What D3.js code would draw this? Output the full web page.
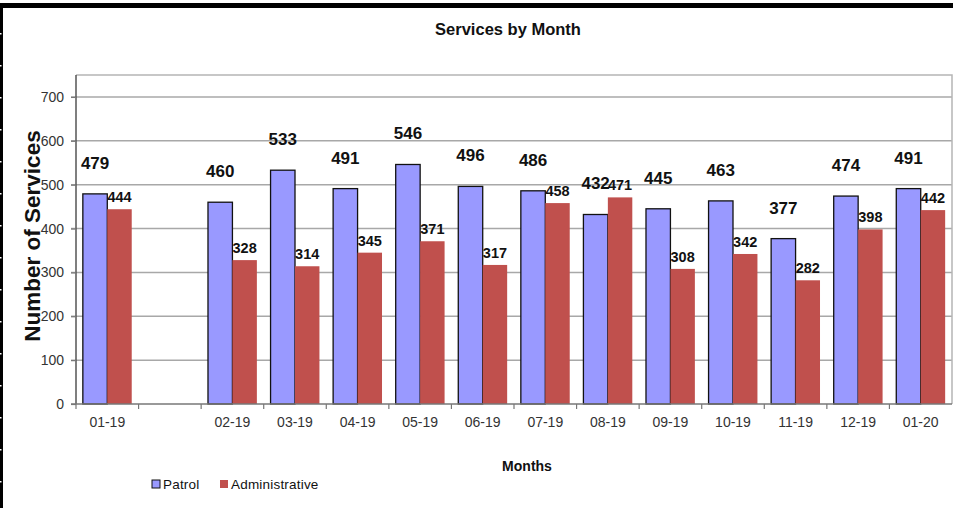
<!DOCTYPE html>
<html>
<head>
<meta charset="utf-8">
<script src="https://cdn.jsdelivr.net/npm/d3@7"></script>
<style>
  body { margin: 0; background: #fff; }
  svg { display: block; font-family: "Liberation Sans", Arial, sans-serif; }
</style>
</head>
<body>
<div id="chart"></div>
<script>
// chart data
const months = ['01-19', ' ', '02-19', '03-19', '04-19', '05-19', '06-19', '07-19', '08-19', '09-19', '10-19', '11-19', '12-19', '01-20'];
const patrol = [479, null, 460, 533, 491, 546, 496, 486, 432, 445, 463, 377, 474, 491];
const administrative = [444, null, 328, 314, 345, 371, 317, 458, 471, 308, 342, 282, 398, 442];
const seriesNames = ['Patrol', 'Administrative'];
const yTicks = [0, 100, 200, 300, 400, 500, 600, 700];

const width = 953, height = 508;
const margin = {top: 75, right: 1, bottom: 104, left: 76};
const colors = {Patrol: '#9999ff', Administrative: '#c0504d'};

const svg = d3.select('#chart').append('svg')
    .attr('width', width)
    .attr('height', height);

// black frame at top and left
svg.append('rect').attr('x', 0).attr('y', 3).attr('width', width).attr('height', 5).attr('fill', '#000');
svg.append('rect').attr('x', 0).attr('y', 3).attr('width', 3).attr('height', height).attr('fill', '#000');
for (let yy = 33; yy < height; yy += 32) {
    svg.append('rect').attr('x', 0).attr('y', yy).attr('width', 1.5).attr('height', 1.5).attr('fill', '#fff');
}

const x = d3.scaleBand()
    .domain(months)
    .range([margin.left, width - margin.right])
    .padding(0);

const x1 = d3.scaleBand()
    .domain(seriesNames)
    .range([0, x.bandwidth()])
    .paddingInner(0)
    .paddingOuter(0.28);

const y = d3.scaleLinear()
    .domain([0, 750])
    .range([height - margin.bottom, margin.top]);

// gridlines
svg.append('g')
    .selectAll('line')
    .data(yTicks.filter(d => d > 0))
    .join('line')
    .attr('x1', margin.left - 5)
    .attr('x2', width - margin.right)
    .attr('y1', d => y(d))
    .attr('y2', d => y(d))
    .attr('stroke', '#a8a8a8')
    .attr('stroke-width', 1.5);

// plot border (top and right)
svg.append('path')
    .attr('d', `M${margin.left},${y(750)}H${width - margin.right}V${y(0)}`)
    .attr('fill', 'none')
    .attr('stroke', '#b5b5b5')
    .attr('stroke-width', 1.5);

// bars
const groups = svg.append('g')
    .selectAll('g')
    .data(months.map((m, i) => ({month: m, Patrol: patrol[i], Administrative: administrative[i]})))
    .join('g')
    .attr('transform', d => `translate(${x(d.month)},0)`);

groups.selectAll('rect')
    .data(d => seriesNames.filter(s => d[s] != null).map(s => ({key: s, value: d[s]})))
    .join('rect')
    .attr('x', d => x1(d.key))
    .attr('y', d => y(d.value))
    .attr('width', x1.bandwidth())
    .attr('height', d => y(0) - y(d.value))
    .attr('fill', d => colors[d.key])
    .attr('stroke', d => d.key === 'Patrol' ? '#111' : 'none')
    .attr('stroke-width', 1.3);

// value labels
groups.filter(d => d.Patrol != null).append('text')
    .attr('x', x1('Patrol') + x1.bandwidth() / 2)
    .attr('y', d => y(d.Patrol) - 25)
    .attr('text-anchor', 'middle')
    .attr('font-size', 17)
    .attr('font-weight', 'bold')
    .attr('fill', '#111')
    .text(d => d.Patrol);

groups.filter(d => d.Administrative != null).append('text')
    .attr('x', x1('Administrative') + x1.bandwidth() / 2)
    .attr('y', d => y(d.Administrative) - 7)
    .attr('text-anchor', 'middle')
    .attr('font-size', 14.5)
    .attr('font-weight', 'bold')
    .attr('fill', '#111')
    .text(d => d.Administrative);

// y axis
const yAxis = d3.axisLeft(y).tickValues(yTicks).tickSize(5).tickPadding(7);
const gy = svg.append('g')
    .attr('transform', `translate(${margin.left},0)`)
    .call(yAxis);
gy.select('.domain').attr('d', `M0,${y(750)}V${y(0)}`).attr('stroke', '#555').attr('stroke-width', 1.5);
gy.selectAll('.tick line').attr('stroke', '#777').attr('stroke-width', 1.2);
gy.selectAll('.tick text').attr('font-size', 14).attr('fill', '#333').attr('font-family', '"Liberation Sans", Arial, sans-serif');

// x axis with ticks at category boundaries
const gx = svg.append('g')
    .attr('transform', `translate(0,${y(0)})`);
gx.append('line')
    .attr('x1', margin.left - 5).attr('x2', width - margin.right)
    .attr('stroke', '#777').attr('stroke-width', 1.5);
gx.selectAll('line.tk')
    .data(months)
    .join('line')
    .attr('class', 'tk')
    .attr('x1', d => x(d)).attr('x2', d => x(d))
    .attr('y1', 0).attr('y2', 5)
    .attr('stroke', '#777').attr('stroke-width', 1.2);
gx.selectAll('text')
    .data(months)
    .join('text')
    .attr('x', d => x(d) + x.bandwidth() / 2)
    .attr('y', 18)
    .attr('dy', '0.35em')
    .attr('text-anchor', 'middle')
    .attr('font-size', 14)
    .attr('fill', '#333')
    .text(d => d);

// titles
svg.append('text')
    .attr('x', 508).attr('y', 29)
    .attr('dy', '0.35em')
    .attr('text-anchor', 'middle')
    .attr('font-size', 16.5)
    .attr('font-weight', 'bold')
    .attr('fill', '#111')
    .text('Services by Month');

svg.append('text')
    .attr('transform', 'translate(32,236) rotate(-90)')
    .attr('dy', '0.35em')
    .attr('text-anchor', 'middle')
    .attr('font-size', 22.5)
    .attr('font-weight', 'bold')
    .attr('fill', '#111')
    .text('Number of Services');

svg.append('text')
    .attr('x', 527).attr('y', 466)
    .attr('dy', '0.35em')
    .attr('text-anchor', 'middle')
    .attr('font-size', 14)
    .attr('font-weight', 'bold')
    .attr('fill', '#111')
    .text('Months');

// legend
const legendX = [152, 220];
const legend = svg.append('g')
    .selectAll('g')
    .data(seriesNames)
    .join('g')
    .attr('transform', (d, i) => `translate(${legendX[i]},484)`);
legend.append('rect')
    .attr('x', 0).attr('y', -4)
    .attr('width', 8).attr('height', 8)
    .attr('fill', d => colors[d])
    .attr('stroke', d => d === 'Patrol' ? '#111' : 'none')
    .attr('stroke-width', 1);
legend.append('text')
    .attr('x', 11)
    .attr('dy', '0.35em')
    .attr('font-size', 13.5)
    .attr('letter-spacing', 0.2)
    .attr('fill', '#111')
    .text(d => d);
</script>
</body>
</html>
